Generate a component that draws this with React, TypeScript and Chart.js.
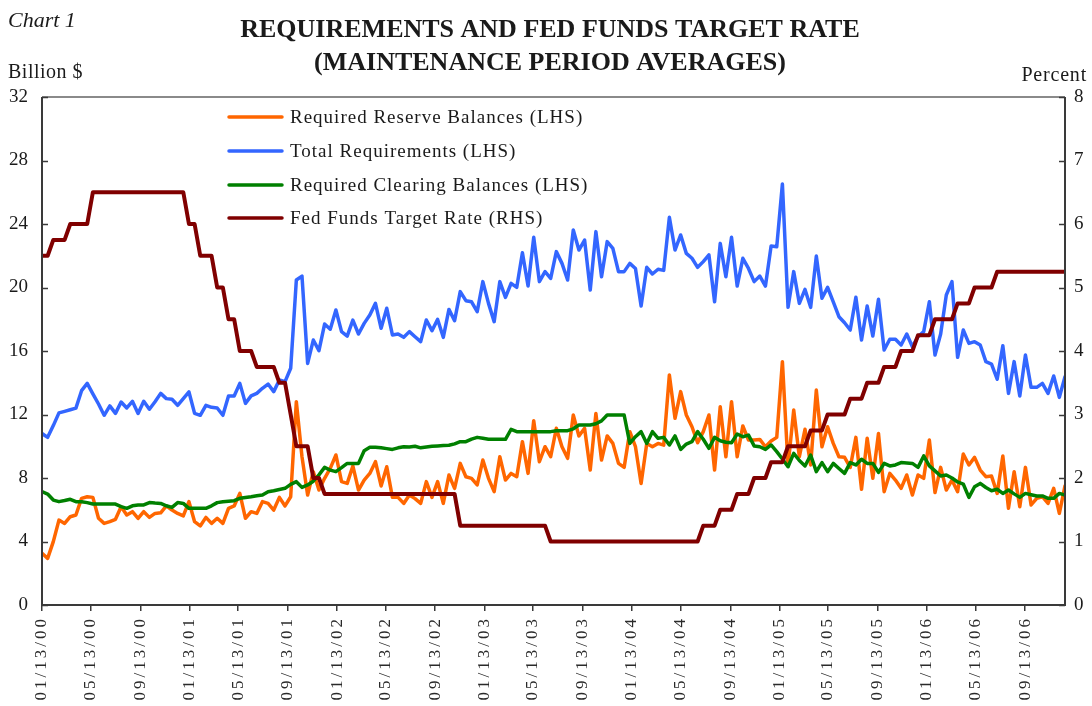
import React, { useEffect, useRef } from 'react';
import { Chart, registerables } from 'chart.js';

Chart.register(...registerables);

// ---------- DATA ----------
const START_DATE = Date.UTC(2000, 0, 13);
const DAY_MS = 86400000;
const PERIOD_LENGTH_DAYS = 14;

const tickLabels = [
  '01/13/00', '05/13/00', '09/13/00', '01/13/01', '05/13/01', '09/13/01', '01/13/02',
  '05/13/02', '09/13/02', '01/13/03', '05/13/03', '09/13/03', '01/13/04', '05/13/04',
  '09/13/04', '01/13/05', '05/13/05', '09/13/05', '01/13/06', '05/13/06', '09/13/06',
];

const requiredReserveBalances = [
  3.26, 2.94, 3.99, 5.35, 5.14, 5.56, 5.67, 6.72, 6.82, 6.78,
  5.46, 5.14, 5.25, 5.4, 6.19, 5.67, 5.88, 5.46, 5.88, 5.52,
  5.77, 5.81, 6.24, 5.98, 5.77, 5.61, 6.51, 5.25, 4.98, 5.52,
  5.14, 5.46, 5.14, 6.09, 6.24, 7.03, 5.46, 5.88, 5.77, 6.51,
  6.4, 5.98, 6.78, 6.24, 6.82, 12.81, 9.34, 6.93, 8.4, 7.24,
  7.98, 8.61, 9.45, 7.77, 7.66, 8.76, 7.24, 7.87, 8.29, 9.03,
  7.5, 8.71, 6.78, 6.78, 6.4, 6.93, 6.7, 6.4, 7.77, 6.78,
  7.77, 6.4, 8.19, 7.35, 8.92, 8.08, 7.98, 7.56, 9.13, 7.98,
  7.14, 9.34, 7.87, 8.29, 8.08, 10.29, 8.29, 11.61, 9.03, 9.97,
  9.34, 11.13, 9.97, 9.24, 11.97, 10.65, 11.13, 8.5, 12.07, 9.13,
  10.65, 10.18, 8.92, 8.67, 10.92, 9.97, 7.66, 10.18, 9.97, 10.18,
  10.07, 14.49, 11.76, 13.44, 11.97, 11.23, 10.22, 10.92, 11.97, 8.5,
  12.49, 9.34, 12.81, 9.34, 11.28, 10.39, 10.39, 10.43, 9.97, 10.33,
  10.56, 15.33, 8.76, 12.28, 9.34, 11.07, 8.82, 13.54, 9.97, 11.23,
  10.18, 9.34, 9.3, 8.67, 10.56, 7.29, 10.5, 7.98, 10.81, 7.14,
  8.29, 7.87, 7.35, 8.19, 6.93, 8.19, 7.98, 10.39, 7.08, 8.67,
  7.24, 7.87, 7.14, 9.51, 8.82, 9.3, 8.5, 8.08, 8.12, 7.03,
  9.39, 6.09, 8.4, 6.19, 8.67, 6.3, 6.72, 6.82, 6.4, 7.35,
  5.77, 7.5,
];

const totalRequirements = [
  10.8, 10.56, 11.3, 12.1, 12.2, 12.3, 12.4, 13.5, 13.96, 13.3,
  12.66, 11.95, 12.54, 12.07, 12.79, 12.41, 12.83, 12.07, 12.83, 12.33,
  12.8, 13.33, 13.0, 12.96, 12.58, 13.0, 13.42, 12.07, 11.95, 12.58,
  12.45, 12.41, 11.95, 13.17, 13.17, 13.96, 12.7, 13.17, 13.33, 13.65,
  13.92, 13.44, 14.17, 14.07, 14.91, 20.47, 20.72, 15.22, 16.69, 16.02,
  17.7, 17.37, 18.58, 17.22, 16.94, 17.95, 17.07, 17.74, 18.27, 19.0,
  17.43, 18.69, 17.01, 17.07, 16.86, 17.22, 16.9, 16.59, 17.95, 17.28,
  17.99, 16.86, 18.62, 17.91, 19.74, 19.17, 19.1, 18.48, 20.37, 19.0,
  17.85, 20.37, 19.38, 20.26, 20.01, 22.19, 20.09, 23.16, 20.37, 21.0,
  20.58, 22.26, 21.52, 20.47, 23.62, 22.36, 22.99, 19.84, 23.52, 20.68,
  22.89, 22.47, 21.0, 21.0, 21.52, 21.2, 18.83, 21.27, 20.85, 21.15,
  21.08, 24.42, 22.36, 23.31, 22.15, 21.84, 21.27, 21.63, 22.05, 19.1,
  22.78, 20.68, 23.16, 20.09, 21.84, 21.2, 20.37, 20.72, 20.09, 22.61,
  22.57, 26.52, 18.75, 21.0, 19.0, 19.88, 18.75, 21.98, 19.32, 20.01,
  19.1, 18.16, 17.78, 17.32, 19.38, 16.69, 18.83, 16.94, 19.26, 16.06,
  16.74, 16.74, 16.38, 17.07, 16.27, 16.9, 17.22, 19.1, 15.75, 17.07,
  19.53, 20.37, 15.6, 17.32, 16.48, 16.59, 16.38, 15.33, 15.18, 14.22,
  16.33, 13.33, 15.33, 13.17, 15.75, 13.71, 13.71, 13.96, 13.33, 14.43,
  13.08, 14.38,
];

const requiredClearingBalances = [
  7.14, 6.99, 6.61, 6.51, 6.58, 6.66, 6.51, 6.51, 6.45, 6.36,
  6.36, 6.36, 6.36, 6.36, 6.2, 6.09, 6.25, 6.3, 6.3, 6.45,
  6.42, 6.4, 6.25, 6.15, 6.45, 6.4, 6.09, 6.09, 6.09, 6.09,
  6.25, 6.45, 6.51, 6.54, 6.57, 6.72, 6.77, 6.82, 6.88, 6.93,
  7.14, 7.2, 7.28, 7.35, 7.6, 7.77, 7.41, 7.56, 7.8, 8.2,
  8.67, 8.5, 8.4, 8.65, 8.92, 8.92, 8.92, 9.72, 9.93, 9.93,
  9.9, 9.85, 9.8, 9.9, 9.97, 9.95, 10.0, 9.9, 9.95, 10.0,
  10.02, 10.04, 10.06, 10.15, 10.29, 10.29, 10.45, 10.56, 10.5, 10.44,
  10.44, 10.44, 10.44, 11.07, 10.92, 10.92, 10.92, 10.92, 10.92, 10.92,
  10.92, 10.98, 10.98, 10.98, 11.1, 11.34, 11.34, 11.34, 11.42, 11.6,
  11.97, 11.97, 11.97, 11.97, 10.18, 10.6, 10.92, 10.18, 10.92, 10.5,
  10.56, 10.08, 10.65, 9.8, 10.14, 10.29, 10.92, 10.44, 9.87, 10.56,
  10.35, 10.25, 10.22, 10.77, 10.6, 10.7, 10.02, 9.97, 9.8, 10.08,
  9.66, 9.2, 8.71, 9.55, 9.1, 8.76, 9.45, 8.4, 8.97, 8.4,
  8.92, 8.6, 8.29, 8.97, 8.82, 9.18, 8.92, 8.92, 8.35, 8.92,
  8.76, 8.82, 8.97, 8.95, 8.92, 8.67, 9.39, 8.76, 8.45, 8.13,
  8.19, 8.0, 7.75, 7.62, 6.78, 7.45, 7.66, 7.4, 7.2, 7.29,
  7.03, 7.24, 7.0, 6.78, 7.03, 6.95, 6.87, 6.87, 6.72, 6.72,
  7.03, 6.93,
];

const fedFundsTargetRate = [
  5.5, 5.5, 5.75, 5.75, 5.75, 6.0, 6.0, 6.0, 6.0, 6.5,
  6.5, 6.5, 6.5, 6.5, 6.5, 6.5, 6.5, 6.5, 6.5, 6.5,
  6.5, 6.5, 6.5, 6.5, 6.5, 6.5, 6.0, 6.0, 5.5, 5.5,
  5.5, 5.0, 5.0, 4.5, 4.5, 4.0, 4.0, 4.0, 3.75, 3.75,
  3.75, 3.75, 3.5, 3.5, 3.0, 2.5, 2.5, 2.5, 2.0, 2.0,
  1.75, 1.75, 1.75, 1.75, 1.75, 1.75, 1.75, 1.75, 1.75, 1.75,
  1.75, 1.75, 1.75, 1.75, 1.75, 1.75, 1.75, 1.75, 1.75, 1.75,
  1.75, 1.75, 1.75, 1.75, 1.25, 1.25, 1.25, 1.25, 1.25, 1.25,
  1.25, 1.25, 1.25, 1.25, 1.25, 1.25, 1.25, 1.25, 1.25, 1.25,
  1.0, 1.0, 1.0, 1.0, 1.0, 1.0, 1.0, 1.0, 1.0, 1.0,
  1.0, 1.0, 1.0, 1.0, 1.0, 1.0, 1.0, 1.0, 1.0, 1.0,
  1.0, 1.0, 1.0, 1.0, 1.0, 1.0, 1.0, 1.25, 1.25, 1.25,
  1.5, 1.5, 1.5, 1.75, 1.75, 1.75, 2.0, 2.0, 2.0, 2.25,
  2.25, 2.25, 2.5, 2.5, 2.5, 2.5, 2.75, 2.75, 2.75, 3.0,
  3.0, 3.0, 3.0, 3.25, 3.25, 3.25, 3.5, 3.5, 3.5, 3.75,
  3.75, 3.75, 4.0, 4.0, 4.0, 4.25, 4.25, 4.25, 4.5, 4.5,
  4.5, 4.5, 4.75, 4.75, 4.75, 5.0, 5.0, 5.0, 5.0, 5.25,
  5.25, 5.25, 5.25, 5.25, 5.25, 5.25, 5.25, 5.25, 5.25, 5.25,
  5.25, 5.25,
];

const seriesLabels = [
  'Required Reserve Balances (LHS)',
  'Total Requirements (LHS)',
  'Required Clearing Balances (LHS)',
  'Fed Funds Target Rate (RHS)',
];

// maintenance periods: day offsets from 01/13/00 (categories)
const periodDays: number[] = requiredReserveBalances.map((_, i) => i * PERIOD_LENGTH_DAYS);

const tickDays = tickLabels.map((s) => {
  const [m, d, y] = s.split('/').map(Number);
  return (Date.UTC(2000 + y, m - 1, d) - START_DATE) / DAY_MS;
});

// ---------- STYLE ----------
const SERIF = '"Liberation Serif", "Times New Roman", serif';
const COLORS = ['#FF6600', '#3366FF', '#008000', '#800000'];
const TEXT = '#1a1a1a';

const toXY = (vals: number[]) => vals.map((v, i) => ({ x: periodDays[i], y: v }));

const decorPlugin = {
  id: 'decor',
  beforeDraw(chart: any) {
    const xs: any = chart.scales.x;
    if (xs && !xs.__wrapped) {
      const orig = xs.drawLabels.bind(xs);
      xs.drawLabels = (area: any) => {
        const c = chart.ctx;
        c.save();
        (c as any).letterSpacing = '3px';
        orig(area);
        c.restore();
      };
      xs.__wrapped = true;
    }
  },
  afterDatasetsDraw(chart: any) {
    const { ctx, chartArea: a } = chart;
    ctx.save();
    // frame
    ctx.lineWidth = 2;
    ctx.strokeStyle = '#8a8a8a';
    ctx.beginPath();
    ctx.moveTo(a.left, a.top);
    ctx.lineTo(a.right, a.top);
    ctx.stroke();
    ctx.strokeStyle = '#3a3a3a';
    ctx.beginPath();
    ctx.moveTo(a.left, a.top);
    ctx.lineTo(a.left, a.bottom);
    ctx.lineTo(a.right, a.bottom);
    ctx.lineTo(a.right, a.top);
    ctx.stroke();
    // inward ticks on y axes
    ctx.lineWidth = 1.5;
    const yl = chart.scales.y;
    const yr = chart.scales.y1;
    yl.ticks.forEach((t: any) => {
      const py = Math.round(yl.getPixelForValue(t.value)) + 0.5;
      ctx.beginPath();
      ctx.moveTo(a.left, py);
      ctx.lineTo(a.left + 6, py);
      ctx.stroke();
    });
    yr.ticks.forEach((t: any) => {
      const py = Math.round(yr.getPixelForValue(t.value)) + 0.5;
      ctx.beginPath();
      ctx.moveTo(a.right - 6, py);
      ctx.lineTo(a.right, py);
      ctx.stroke();
    });
    ctx.restore();
  },
  afterDraw(chart: any) {
    const { ctx } = chart;
    ctx.save();
    ctx.fillStyle = TEXT;
    ctx.textBaseline = 'alphabetic';
    // corner caption
    ctx.textAlign = 'left';
    ctx.font = `italic 22px ${SERIF}`;
    ctx.fillText('Chart 1', 8, 27);
    // title
    ctx.textAlign = 'center';
    ctx.font = `bold 26px ${SERIF}`;
    ctx.fillText('REQUIREMENTS AND FED FUNDS TARGET RATE', 550, 37);
    ctx.fillText('(MAINTENANCE PERIOD AVERAGES)', 550, 70);
    // axis units
    ctx.font = `20px ${SERIF}`;
    ctx.textAlign = 'left';
    (ctx as any).letterSpacing = '0.5px';
    ctx.fillText('Billion $', 8, 78);
    ctx.textAlign = 'right';
    (ctx as any).letterSpacing = '0.8px';
    ctx.fillText('Percent', 1087, 81);
    // legend
    const rows = [117, 151, 185, 218];
    ctx.font = `19px ${SERIF}`;
    ctx.textAlign = 'left';
    ctx.textBaseline = 'middle';
    (ctx as any).letterSpacing = '1px';
    chart.data.datasets.forEach((ds: any, i: number) => {
      const y = rows[i];
      ctx.strokeStyle = ds.borderColor;
      ctx.lineWidth = 3.5;
      ctx.lineCap = 'round';
      ctx.beginPath();
      ctx.moveTo(229, y);
      ctx.lineTo(282, y);
      ctx.stroke();
      ctx.fillStyle = TEXT;
      ctx.fillText(ds.label, 290, y + 1);
    });
    ctx.restore();
  },
};

export default function App() {
  const canvasRef = useRef<HTMLCanvasElement | null>(null);

  useEffect(() => {
    document.body.style.margin = '0';
    const canvas = canvasRef.current;
    if (!canvas) return;
    const values = [requiredReserveBalances, totalRequirements, requiredClearingBalances, fedFundsTargetRate];
    const orders = [3, 2, 1, 0];
    const chart = new Chart(canvas, {
      type: 'line',
      data: {
        datasets: values.map((vals, i) => ({
          label: seriesLabels[i],
          data: toXY(vals),
          borderColor: COLORS[i],
          backgroundColor: COLORS[i],
          borderWidth: i === 3 ? 4 : 3.5,
          pointRadius: 0,
          tension: 0,
          fill: false,
          borderJoinStyle: 'round' as const,
          borderCapStyle: 'round' as const,
          yAxisID: i === 3 ? 'y1' : 'y',
          order: orders[i],
        })),
      },
      options: {
        responsive: false,
        animation: false,
        devicePixelRatio: 1,
        layout: { padding: { top: 97, left: 0, right: 0, bottom: 0 } },
        plugins: {
          legend: { display: false },
          title: { display: false },
          tooltip: { enabled: false },
        },
        scales: {
          x: {
            type: 'linear',
            min: 0,
            max: periodDays[periodDays.length - 1],
            afterBuildTicks: (s: any) => {
              s.ticks = tickDays.map((v) => ({ value: v }));
            },
            afterFit: (s: any) => {
              s.height = 101;
            },
            ticks: {
              autoSkip: false,
              maxRotation: 90,
              minRotation: 90,
              padding: 5,
              color: '#2a2a2a',
              font: { family: SERIF, size: 17 },
              callback: (_v: any, idx: number) => tickLabels[idx],
            },
            grid: {
              display: true,
              drawOnChartArea: false,
              drawTicks: true,
              tickLength: 6,
              color: '#3a3a3a',
              lineWidth: 1.5,
            },
            border: { display: false },
          },
          y: {
            type: 'linear',
            position: 'left',
            min: 0,
            max: 32,
            afterFit: (s: any) => {
              s.width = 42;
            },
            ticks: {
              stepSize: 4,
              padding: 14,
              color: TEXT,
              font: { family: SERIF, size: 19 },
            },
            grid: { display: false, drawTicks: false },
            border: { display: false },
          },
          y1: {
            type: 'linear',
            position: 'right',
            min: 0,
            max: 8,
            afterFit: (s: any) => {
              s.width = 27;
            },
            ticks: {
              stepSize: 1,
              padding: 9,
              color: TEXT,
              font: { family: SERIF, size: 19 },
            },
            grid: { display: false, drawTicks: false },
            border: { display: false },
          },
        },
      },
      plugins: [decorPlugin],
    });
    return () => chart.destroy();
  }, []);

  return (
    <div style={{ position: 'absolute', left: 0, top: 0, width: 1092, height: 706, background: '#fff' }}>
      <canvas ref={canvasRef} width={1092} height={706} style={{ display: 'block', width: 1092, height: 706 }} />
    </div>
  );
}
